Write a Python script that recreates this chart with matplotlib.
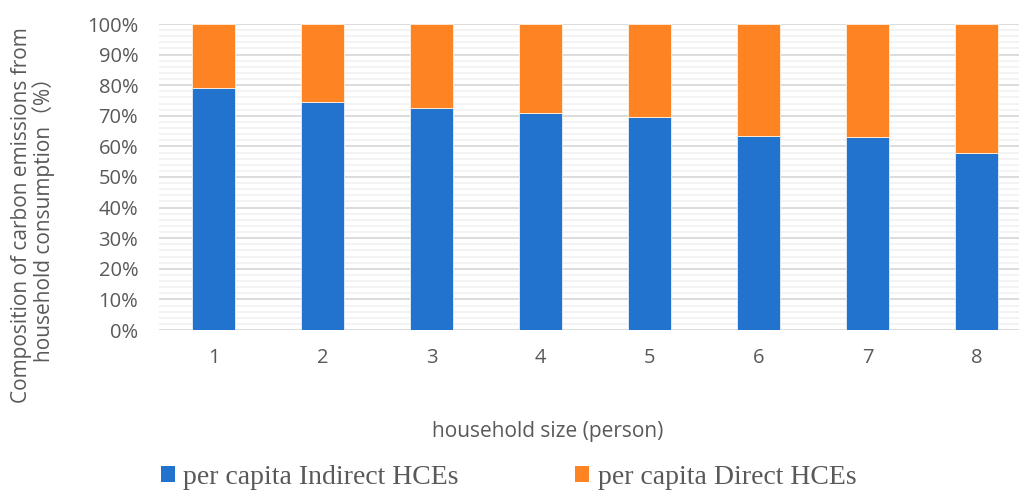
import matplotlib.pyplot as plt
import numpy as np
from matplotlib.ticker import MultipleLocator, PercentFormatter
from matplotlib.patches import Patch

household_size = [1, 2, 3, 4, 5, 6, 7, 8]
indirect_share = [79.2, 74.6, 72.6, 71.0, 69.6, 63.5, 63.2, 57.9]
direct_share = [100 - v for v in indirect_share]

blue = '#2173CE'
orange = '#FE8322'
text_gray = '#595959'
sans = ['Open Sans', 'Noto Sans CJK SC', 'DejaVu Sans']

fig = plt.figure(figsize=(10.19, 4.91), dpi=100)
ax = fig.add_axes([159 / 1019, 161 / 491, 872 / 1019, 306 / 491])

x = np.array(household_size)
ax.bar(x, indirect_share, width=0.40, color=blue, edgecolor='#E8F0FA', linewidth=0.6, zorder=3)
ax.bar(x, direct_share, bottom=indirect_share, width=0.40, color=orange,
       edgecolor='#FFF0E0', linewidth=0.6, zorder=3)

ax.set_xlim(0.5, 8.5)
ax.set_ylim(0, 100)
ax.yaxis.set_major_locator(MultipleLocator(10))
ax.yaxis.set_minor_locator(MultipleLocator(2))
ax.yaxis.set_major_formatter(PercentFormatter(decimals=0))
ax.set_xticks(x)
ax.set_xticklabels([str(v) for v in household_size])

ax.grid(axis='y', which='major', color='#D9D9D9', linewidth=1.3, zorder=1)
ax.grid(axis='y', which='minor', color='#F2F2F2', linewidth=1.3, zorder=0)
for s in ax.spines.values():
    s.set_visible(False)
ax.tick_params(axis='both', which='both', length=0, labelsize=14.5, labelcolor=text_gray)
ax.tick_params(axis='y', pad=15)
ax.tick_params(axis='x', pad=13)
for lbl in ax.get_xticklabels() + ax.get_yticklabels():
    lbl.set_family(sans)

fig.text(33 / 1019, 1 - 215 / 491,
         'Composition of carbon emissions from\nhousehold consumption（%）',
         rotation=90, ha='center', va='center', multialignment='center',
         fontsize=15, color=text_gray, family=sans, linespacing=1.05)
fig.text(548 / 1019, 1 - 431 / 491, 'household size (person)',
         ha='center', va='center', fontsize=15, color=text_gray, family=sans)

handles = [Patch(facecolor=blue, edgecolor='none'), Patch(facecolor=orange, edgecolor='none')]
fig.legend(handles, ['per capita Indirect HCEs', 'per capita Direct HCEs'],
           loc='center left', bbox_to_anchor=(136 / 1019, 1 - 477 / 491), ncol=2,
           frameon=False, handlelength=0.5, handleheight=0.5, handletextpad=0.3,
           columnspacing=4.2, labelcolor=text_gray,
           prop={'family': 'Liberation Serif', 'size': 20})

fig.savefig('out.png', dpi=100)
